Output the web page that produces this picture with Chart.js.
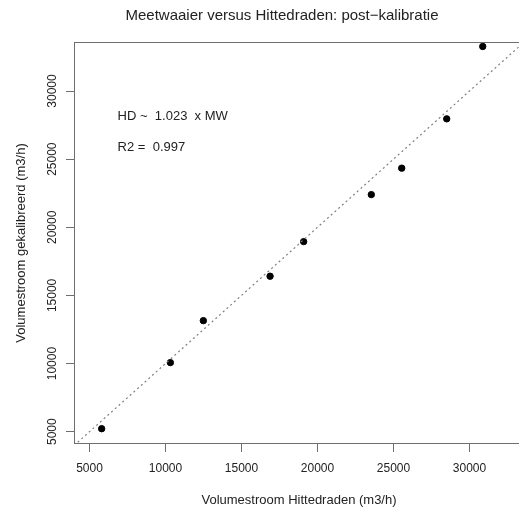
<!DOCTYPE html>
<html>
<head>
<meta charset="utf-8">
<script src="https://cdn.jsdelivr.net/npm/chart.js@4/dist/chart.umd.min.js"></script>
<style>
  html, body { margin: 0; padding: 0; background: #fff; overflow: hidden; width: 519px; height: 512px; }
  #frame { width: 519px; height: 512px; overflow: hidden; position: relative; }
  canvas { display: block; }
</style>
</head>
<body>
<div id="frame"><canvas id="c" width="524" height="512"></canvas></div>
<script>
// Measured flow: hot-wire reading (x) against calibrated fan reading (y), m3/h
const hittedraden   = [5800, 10320, 12490, 16880, 19090, 23540, 25540, 28500, 30870];
const gekalibreerd  = [5220, 10070, 13150, 16410, 18950, 22400, 24340, 27960, 33270];
// 1:1 reference line endpoints
const refLine = [3000, 36000];
const xTicks = [5000, 10000, 15000, 20000, 25000, 30000];
const yTicks = [5000, 10000, 15000, 20000, 25000, 30000];
const fitText = ['HD ~  1.023  x MW', 'R2 =  0.997'];

const FONT = '"Liberation Sans", Arial, sans-serif';
const TXT = '#222';
const AXIS = '#6e6e6e';

const titlePlugin = {
  id: 'mainTitle',
  afterDraw(chart) {
    const ctx = chart.ctx;
    ctx.save();
    ctx.font = '15px ' + FONT;
    ctx.fillStyle = TXT;
    ctx.textAlign = 'center';
    ctx.textBaseline = 'middle';
    ctx.fillText('Meetwaaier versus Hittedraden: post\u2212kalibratie', 282, 16);
    ctx.restore();
  }
};

// plot frame; its right side falls outside the visible frame
const boxPlugin = {
  id: 'plotBox',
  afterDraw(chart) {
    const a = chart.chartArea, ctx = chart.ctx;
    ctx.save();
    ctx.strokeStyle = AXIS;
    ctx.lineWidth = 1;
    ctx.strokeRect(a.left + 0.5, a.top + 0.5, a.right - a.left - 1, a.bottom - a.top - 1);
    ctx.restore();
  }
};

const notePlugin = {
  id: 'fitNote',
  afterDraw(chart) {
    const ctx = chart.ctx, xs = chart.scales.x, ys = chart.scales.y;
    ctx.save();
    ctx.font = '13px ' + FONT;
    ctx.fillStyle = TXT;
    ctx.textAlign = 'left';
    ctx.textBaseline = 'middle';
    const x0 = xs.getPixelForValue(6850);
    ctx.fillText(fitText[0], x0, ys.getPixelForValue(28100));
    ctx.fillText(fitText[1], x0, ys.getPixelForValue(25850));
    ctx.restore();
  }
};

new Chart(document.getElementById('c'), {
  type: 'scatter',
  data: {
    datasets: [
      {
        type: 'line',
        data: refLine.map(v => ({ x: v, y: v })),
        borderColor: '#808080',
        borderWidth: 1.2,
        borderDash: [2, 3],
        pointRadius: 0,
        fill: false
      },
      {
        data: hittedraden.map((v, i) => ({ x: v, y: gekalibreerd[i] })),
        backgroundColor: '#000',
        borderColor: '#000',
        pointRadius: 3.2,
        pointHoverRadius: 3.2
      }
    ]
  },
  options: {
    responsive: false,
    animation: false,
    events: [],
    layout: { autoPadding: false, padding: { top: 42, left: 0, right: 0, bottom: 0 } },
    plugins: { legend: { display: false }, tooltip: { enabled: false } },
    scales: {
      x: {
        type: 'linear',
        min: 3980,
        max: 33585,
        afterBuildTicks: s => { s.ticks = xTicks.map(v => ({ value: v })); },
        afterFit: s => { s.height = 68; },
        grid: { drawOnChartArea: false, drawTicks: true, tickLength: 8, color: AXIS },
        border: { display: false },
        ticks: { color: TXT, padding: 9, font: { family: FONT, size: 12 }, maxRotation: 0, autoSkip: false,
                 callback: v => String(v) },
        title: { display: true, text: 'Volumestroom Hittedraden (m3/h)', color: TXT,
                 font: { family: FONT, size: 13 }, padding: { top: 0, bottom: 3.5 } }
      },
      y: {
        type: 'linear',
        min: 4097,
        max: 33598,
        afterBuildTicks: s => { s.ticks = yTicks.map(v => ({ value: v })); },
        afterFit: s => { s.width = 74; },
        grid: { drawOnChartArea: false, drawTicks: true, tickLength: 8, color: AXIS },
        border: { display: false },
        ticks: { color: TXT, padding: -3, crossAlign: 'center', minRotation: 90, maxRotation: 90,
                 font: { family: FONT, size: 12 }, autoSkip: false, callback: v => String(v) },
        title: { display: true, text: 'Volumestroom gekalibreerd (m3/h)', color: TXT,
                 font: { family: FONT, size: 13 }, padding: { top: 14, bottom: 0 } }
      }
    }
  },
  plugins: [titlePlugin, boxPlugin, notePlugin]
});
</script>
</body>
</html>
